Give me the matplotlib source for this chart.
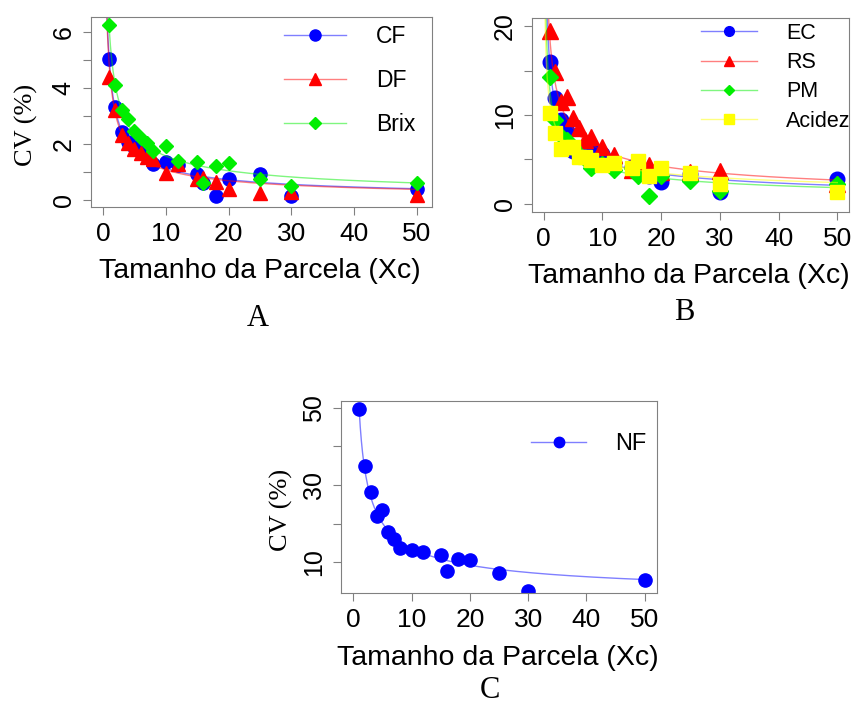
import numpy as np
import matplotlib.pyplot as plt
from matplotlib.lines import Line2D

plt.rcParams['font.family'] = ['Liberation Sans', 'DejaVu Sans']

# plot sizes (x) shared by all series
tamanho = [1, 2, 3, 4, 5, 6, 7, 8, 10, 12, 15, 16, 18, 20, 25, 30, 50]

# panel A
cf = [5.03, 3.30, 2.41, 2.08, 1.90, 1.76, 1.64, 1.27, 1.34, 1.25, 0.93, 0.62, 0.14, 0.75, 0.93, 0.15, 0.38]
df = [4.37, 3.20, 2.32, 2.02, 1.80, 1.69, 1.54, 1.45, 0.95, 1.28, 0.75, 0.77, 0.65, 0.38, 0.26, 0.30, 0.18]
brix = [6.24, 4.08, 3.21, 2.89, 2.46, 2.20, 2.02, 1.76, 1.92, 1.40, 1.34, 0.62, 1.22, 1.31, 0.75, 0.51, 0.62]

# panel B
ec = [15.9, 11.9, 9.4, 8.2, 5.9, 6.2, 5.5, 6.2, 5.6, 4.6, 4.2, 4.0, 3.2, 2.5, 3.4, 1.4, 2.8]
rs = [19.4, 14.8, 11.5, 12.0, 9.7, 8.5, 7.2, 7.5, 6.4, 5.5, 3.8, 4.2, 4.4, 3.6, 3.6, 3.7, 2.2]
pm = [14.3, 9.4, 7.6, 7.2, 6.4, 5.6, 5.0, 4.0, 4.5, 3.8, 4.0, 3.1, 0.9, 3.1, 2.6, 1.5, 2.2]
acidez = [10.2, 8.0, 6.2, 6.4, 6.4, 5.3, 5.3, 4.9, 4.4, 4.6, 4.1, 4.8, 3.1, 4.1, 3.5, 2.3, 1.4]

# panel C
nf = [49.8, 35.0, 28.3, 22.0, 23.6, 17.9, 16.0, 13.6, 13.2, 12.6, 11.9, 7.8, 10.8, 10.6, 7.3, 2.6, 5.4]

# fitted power curves CV = a * x^-b (coefficients)
fit_cf, fit_df, fit_brix = (5.0, 0.645), (4.8, 0.65), (6.1, 0.59)
fit_ec, fit_rs, fit_pm, fit_acidez = (16.0, 0.52), (19.0, 0.5), (13.0, 0.5), (11.5, 0.4)
fit_nf = (50.0, 0.565)

W, H = 853, 709
fig = plt.figure(figsize=(W / 100, H / 100), dpi=100)


def add_ax(l, t, r, b):
    return fig.add_axes([l / W, 1 - b / H, (r - l) / W, (b - t) / H])


def panel(ax, series, x0, xlim, ylim, yticks, ylabels):
    for y, (a, b), color, marker, ms in series:
        xs = np.linspace(x0, 50, 500)
        ax.plot(xs, a * xs ** -b, color=color, lw=1, alpha=0.5)
        ax.plot(tamanho, y, ls='none', marker=marker, ms=ms, color=color, mec=color)
    ax.set_xlim(*xlim)
    ax.set_ylim(*ylim)
    ax.set_xticks([0, 10, 20, 30, 40, 50])
    ax.set_yticks(yticks)
    ax.set_yticklabels(ylabels, rotation=90, va='center')
    for s in ax.spines.values():
        s.set_color('#808080')
    ax.tick_params(axis='x', length=6, color='#808080', labelsize=19, pad=5)
    ax.tick_params(axis='y', length=6, color='#808080', labelsize=18, pad=5)


def legend(ax, series, labels, x, y, fs, spacing, ms_list, hlen=2.7, tpad=1.3):
    handles = [Line2D([], [], color=c, lw=1, marker=m, ms=ms, mfc=c, mec=c)
               for (_, _, c, m, _), ms in zip(series, ms_list)]
    leg = ax.legend(handles, labels, loc='upper left', bbox_to_anchor=(x / W, 1 - y / H),
                    bbox_transform=fig.transFigure, frameon=False, fontsize=fs,
                    handlelength=hlen, handletextpad=tpad, labelspacing=spacing,
                    borderpad=0, borderaxespad=0)
    for h, (_, _, c, _, _) in zip(leg.legend_handles, series):
        h.set_color((*plt.matplotlib.colors.to_rgb(c), 0.5))
        h.set_markerfacecolor(c)
        h.set_markeredgecolor(c)
    return leg


serif = ['Liberation Serif', 'DejaVu Serif']

# A
axA = add_ax(91, 17, 432, 207)
sA = [(cf, fit_cf, '#0000ff', 'o', 9.5),
      (df, fit_df, '#ff0000', '^', 10),
      (brix, fit_brix, '#00ee00', 'D', 7.5)]
panel(axA, sA, 0.1, (-1.9, 52.4), (-0.25, 6.52), range(7),
      ['0', '', '2', '', '4', '', '6'])
legend(axA, sA, ['CF', 'DF', 'Brix'], 284, 25, 16.5, 0.92, [8, 9, 6.5])

# B
axB = add_ax(532, 18, 849, 212)
sB = [(ec, fit_ec, '#0000ff', 'o', 10.5),
      (rs, fit_rs, '#ff0000', '^', 11.5),
      (pm, fit_pm, '#00ee00', 'D', 8),
      (acidez, fit_acidez, '#ffff00', 's', 10.5)]
panel(axB, sB, 0.1, (-2.0, 52.0), (-0.9, 20.9), [0, 5, 10, 15, 20],
      ['0', '', '10', '', '20'])
legend(axB, sB, ['EC', 'RS', 'PM', 'Acidez'], 701, 23, 15.5, 0.38, [7, 7.5, 5.5, 7],
       hlen=2.6, tpad=1.35)

# C
axC = add_ax(341, 401, 657, 593)
sC = [(nf, fit_nf, '#0000ff', 'o', 9.5)]
panel(axC, sC, 1.0, (-2.1, 52.1), (2.0, 51.8), [10, 20, 30, 40, 50],
      ['10', '', '30', '', '50'])
legend(axC, sC, ['NF'], 531, 433, 17, 0.5, [7.5], hlen=2.35, tpad=1.2)

# axis titles and panel letters
for x, y in [(260, 271), (689, 276), (498, 658)]:
    fig.text(x / W, 1 - y / H, 'Tamanho da Parcela (Xc)', fontsize=20.5,
             ha='center', va='center')
for x, y in [(26, 125), (281, 510)]:
    fig.text(x / W, 1 - y / H, 'CV (%)', fontsize=19, family=serif,
             rotation=90, ha='center', va='center')
for x, y, s in [(258, 318, 'A'), (684, 313, 'B'), (490, 690, 'C')]:
    fig.text(x / W, 1 - y / H, s, fontsize=22, family=serif,
             ha='center', va='center')

fig.savefig('out.png', dpi=100)
